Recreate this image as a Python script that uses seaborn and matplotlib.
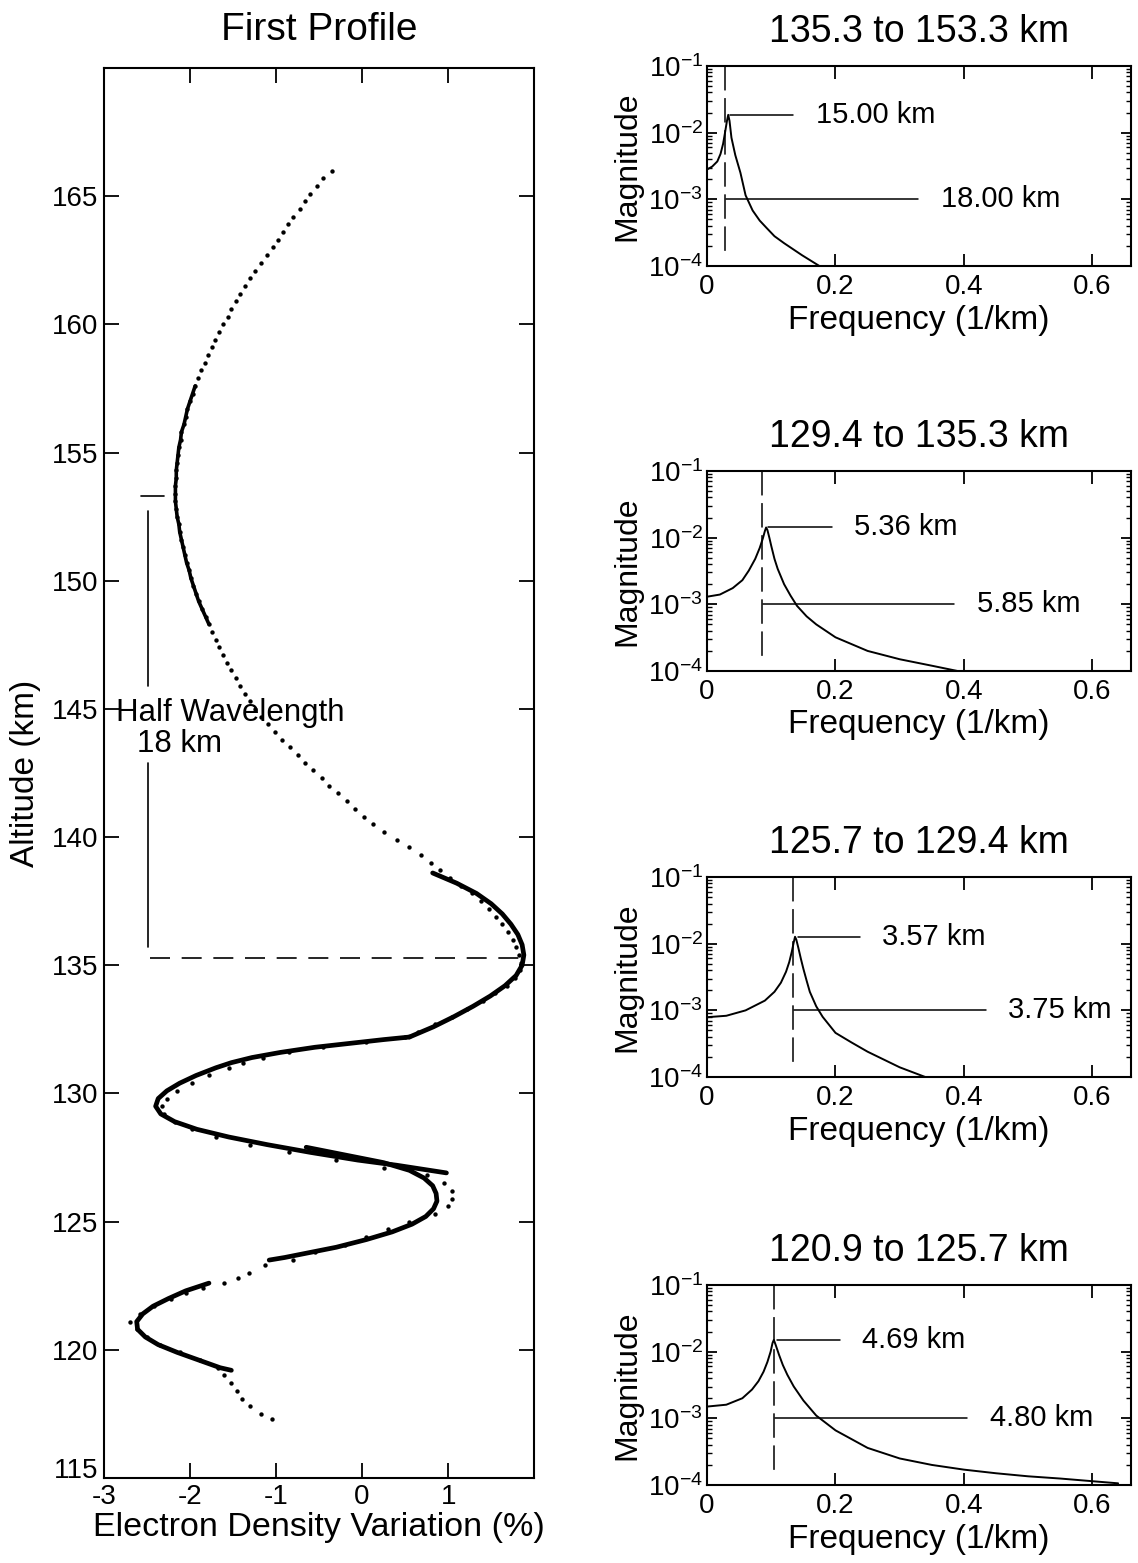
import numpy as np
import matplotlib
matplotlib.use("Agg")
import matplotlib.pyplot as plt
import seaborn as sns
from matplotlib.ticker import FixedLocator, LogLocator, NullFormatter, FuncFormatter
from matplotlib.transforms import ScaledTranslation

sns.set_style("ticks")
plt.rcParams['font.family'] = ['Liberation Sans', 'DejaVu Sans']
plt.rcParams['mathtext.fontset'] = 'custom'
plt.rcParams['mathtext.rm'] = 'Liberation Sans'
plt.rcParams['mathtext.it'] = 'Liberation Sans:italic'
plt.rcParams['axes.linewidth'] = 1.5
for key in ['text.color', 'axes.labelcolor', 'xtick.color', 'ytick.color', 'axes.edgecolor']:
    plt.rcParams[key] = 'black'

# ---- left panel: measured electron density variation (dots) ----
dot_alt = [166.0, 165.7, 165.4, 165.1, 164.8, 164.5, 164.2, 163.9, 163.6, 163.3,
           163.0, 162.7, 162.4, 162.1, 161.8, 161.5, 161.2, 160.9, 160.6, 160.3,
           160.0, 159.7, 159.4, 159.1, 158.8, 158.5, 158.2, 157.9, 157.6, 157.3,
           157.0, 156.7, 156.4, 156.1, 155.8, 155.5, 155.2, 154.9, 154.6, 154.3,
           154.0, 153.7, 153.4, 153.1, 152.8, 152.5, 152.2, 151.9, 151.6, 151.3,
           151.0, 150.7, 150.4, 150.1, 149.8, 149.5, 149.2, 148.9, 148.6, 148.3,
           148.0, 147.7, 147.4, 147.1, 146.8, 146.5, 146.2, 145.9, 145.6, 145.3,
           145.0, 144.7, 144.4, 144.1, 143.8, 143.5, 143.2, 142.9, 142.6, 142.3,
           142.0, 141.7, 141.4, 141.1, 140.8, 140.5, 140.2, 139.9, 139.6, 139.3,
           139.0, 138.7, 138.4, 138.1, 137.8, 137.5, 137.2, 136.9, 136.6, 136.3,
           136.0, 135.7, 135.4, 135.1, 134.8, 134.5, 134.2, 133.9, 133.6, 133.3,
           133.0, 132.7, 132.4, 132.2, 132.0, 131.8, 131.6, 131.4, 131.2, 131.0,
           130.7, 130.4, 130.1, 129.8, 129.5, 129.2, 128.9, 128.6, 128.3, 128.0,
           127.7, 127.4, 127.1, 126.8, 126.5, 126.2, 125.9, 125.6, 125.3, 125.0,
           124.7, 124.4, 124.1, 123.8, 123.5, 123.3, 123.0, 122.8, 122.6, 122.4,
           122.2, 122.0, 121.7, 121.4, 121.1, 120.8, 120.5, 120.2, 119.9, 119.6,
           119.3, 119.0, 118.7, 118.4, 118.1, 117.8, 117.5, 117.3]
dot_dev = [-0.35, -0.45, -0.52, -0.60, -0.66, -0.72, -0.80, -0.86, -0.92, -0.98,
           -1.03, -1.10, -1.17, -1.24, -1.30, -1.36, -1.42, -1.47, -1.52, -1.56,
           -1.62, -1.66, -1.71, -1.75, -1.79, -1.83, -1.87, -1.91, -1.94, -1.97,
           -2.00, -2.03, -2.05, -2.07, -2.10, -2.11, -2.13, -2.14, -2.15, -2.16,
           -2.16, -2.17, -2.17, -2.17, -2.16, -2.15, -2.13, -2.12, -2.10, -2.08,
           -2.06, -2.04, -2.01, -1.99, -1.96, -1.93, -1.90, -1.86, -1.82, -1.78,
           -1.74, -1.70, -1.66, -1.62, -1.57, -1.52, -1.47, -1.42, -1.36, -1.30,
           -1.24, -1.17, -1.09, -1.01, -0.93, -0.84, -0.75, -0.66, -0.57, -0.47,
           -0.38, -0.28, -0.18, -0.08, 0.02, 0.13, 0.25, 0.40, 0.55, 0.68,
           0.80, 0.90, 1.02, 1.15, 1.28, 1.38, 1.48, 1.56, 1.63, 1.70,
           1.75, 1.79, 1.82, 1.85, 1.84, 1.78, 1.68, 1.55, 1.40, 1.22,
           1.04, 0.85, 0.65, 0.50, 0.05, -0.45, -0.85, -1.15, -1.38, -1.55,
           -1.78, -1.98, -2.15, -2.27, -2.33, -2.30, -2.18, -1.98, -1.70, -1.30,
           -0.85, -0.30, 0.25, 0.75, 0.95, 1.05, 1.05, 1.00, 0.85, 0.55,
           0.30, 0.05, -0.20, -0.55, -0.80, -1.13, -1.31, -1.44, -1.61, -1.85,
           -2.05, -2.22, -2.42, -2.58, -2.70, -2.62, -2.50, -2.35, -2.12, -1.88,
           -1.68, -1.60, -1.52, -1.46, -1.40, -1.30, -1.18, -1.05]

# ---- left panel: fitted segments (solid) ----
fit1_alt = [138.6, 138.2, 137.8, 137.4, 137.0, 136.6, 136.2, 135.8, 135.4, 135.0,
            134.6, 134.2, 133.8, 133.4, 133.0, 132.6, 132.2]
fit1_dev = [0.82, 1.10, 1.33, 1.50, 1.63, 1.73, 1.81, 1.86, 1.88, 1.86,
            1.79, 1.66, 1.49, 1.29, 1.07, 0.83, 0.55]
fit2_alt = [132.2, 132.1, 131.95, 131.8, 131.6, 131.4, 131.2, 131.0, 130.7, 130.4,
            130.1, 129.8, 129.5, 129.2, 128.9, 128.6, 128.3, 128.0, 127.7, 127.4,
            127.2, 126.9]
fit2_dev = [0.55, 0.25, -0.15, -0.55, -0.95, -1.28, -1.52, -1.70, -1.93, -2.12,
            -2.27, -2.37, -2.40, -2.34, -2.18, -1.92, -1.55, -1.10, -0.60, -0.05,
            0.40, 0.98]
fit3_alt = [127.9, 127.6, 127.3, 127.0, 126.7, 126.4, 126.1, 125.8, 125.5, 125.2,
            124.9, 124.6, 124.3, 124.0, 123.8, 123.6, 123.5]
fit3_dev = [-0.65, -0.20, 0.25, 0.55, 0.72, 0.82, 0.86, 0.87, 0.83, 0.74,
            0.58, 0.35, 0.05, -0.30, -0.60, -0.90, -1.08]
fit4_alt = [122.6, 122.3, 122.0, 121.7, 121.4, 121.1, 120.8, 120.5, 120.2, 119.9,
            119.6, 119.3, 119.2]
fit4_dev = [-1.78, -2.05, -2.25, -2.43, -2.55, -2.62, -2.61, -2.52, -2.37, -2.15,
            -1.90, -1.65, -1.52]

half_top_km = 153.3
half_bottom_km = 135.3

# ---- right panels: spectra ----
titles = ["135.3 to 153.3 km", "129.4 to 135.3 km", "125.7 to 129.4 km", "120.9 to 125.7 km"]
peak_km = [15.00, 5.36, 3.57, 4.69]
half_km = [18.00, 5.85, 3.75, 4.80]

spec1_freq = [0.000, 0.008, 0.016, 0.021, 0.025, 0.028, 0.031, 0.033, 0.035, 0.038,
              0.044, 0.052, 0.060, 0.071, 0.082, 0.093, 0.105, 0.120, 0.148, 0.175]
spec1_mag = [2.8e-3, 3.1e-3, 3.7e-3, 4.8e-3, 6.8e-3, 1.0e-2, 1.5e-2, 1.85e-2, 1.5e-2, 8.4e-3,
             4.6e-3, 2.5e-3, 1.15e-3, 6.8e-4, 4.8e-4, 3.7e-4, 2.8e-4, 2.2e-4, 1.45e-4, 1.0e-4]
spec2_freq = [0.000, 0.020, 0.040, 0.055, 0.065, 0.075, 0.082, 0.087, 0.090, 0.092,
              0.094, 0.097, 0.100, 0.105, 0.110, 0.120, 0.130, 0.140, 0.155, 0.170,
              0.200, 0.250, 0.300, 0.350, 0.390]
spec2_mag = [1.3e-3, 1.4e-3, 1.75e-3, 2.3e-3, 3.2e-3, 4.8e-3, 7.0e-3, 9.8e-3, 1.25e-2, 1.42e-2,
             1.3e-2, 1.0e-2, 7.5e-3, 4.8e-3, 3.4e-3, 2.0e-3, 1.35e-3, 9.5e-4, 6.6e-4, 5.0e-4,
             3.2e-4, 2.0e-4, 1.5e-4, 1.2e-4, 1.0e-4]
spec3_freq = [0.000, 0.030, 0.060, 0.090, 0.105, 0.115, 0.123, 0.128, 0.132, 0.135,
              0.137, 0.139, 0.142, 0.146, 0.150, 0.155, 0.160, 0.170, 0.180, 0.200,
              0.225, 0.250, 0.300, 0.340]
spec3_mag = [7.9e-4, 8.3e-4, 1.0e-3, 1.4e-3, 1.9e-3, 2.6e-3, 3.8e-3, 5.3e-3, 7.6e-3, 1.05e-2,
             1.27e-2, 1.15e-2, 8.8e-3, 6.0e-3, 4.2e-3, 2.8e-3, 1.9e-3, 1.15e-3, 8.0e-4, 4.6e-4,
             3.3e-4, 2.4e-4, 1.4e-4, 1.0e-4]
spec4_freq = [0.000, 0.030, 0.055, 0.070, 0.080, 0.088, 0.094, 0.099, 0.102, 0.104,
              0.107, 0.112, 0.118, 0.125, 0.135, 0.150, 0.170, 0.200, 0.250, 0.300,
              0.350, 0.400, 0.450, 0.500, 0.550, 0.600, 0.640]
spec4_mag = [1.5e-3, 1.6e-3, 2.0e-3, 2.7e-3, 3.6e-3, 5.0e-3, 7.0e-3, 1.0e-2, 1.35e-2, 1.5e-2,
             1.25e-2, 9.0e-3, 6.3e-3, 4.5e-3, 3.0e-3, 1.85e-3, 1.1e-3, 6.6e-4, 3.6e-4, 2.5e-4,
             2.0e-4, 1.7e-4, 1.5e-4, 1.35e-4, 1.25e-4, 1.14e-4, 1.06e-4]

spectra = [(spec1_freq, spec1_mag), (spec2_freq, spec2_mag),
           (spec3_freq, spec3_mag), (spec4_freq, spec4_mag)]

# leader line ends (frequency units), per panel
peak_line_end = [0.134, 0.194, 0.238, 0.207]
half_line_end = [0.329, 0.385, 0.434, 0.405]

fig = plt.figure(figsize=(11.38, 15.63), dpi=100)

# ================= left panel =================
ax = fig.add_axes([0.0914, 0.0544, 0.378, 0.9021])
sns.scatterplot(x=dot_dev, y=dot_alt, ax=ax, s=10, color="black", linewidth=0)
# dense part of the profile looks like a thick line
dense = [(d, a) for d, a in zip(dot_dev, dot_alt) if 148.2 <= a <= 157.7]
sns.lineplot(x=[d for d, a in dense], y=[a for d, a in dense], ax=ax, sort=False,
             estimator=None, color="black", lw=2.6)
for fa, fd in [(fit1_alt, fit1_dev), (fit2_alt, fit2_dev), (fit3_alt, fit3_dev), (fit4_alt, fit4_dev)]:
    sns.lineplot(x=fd, y=fa, ax=ax, sort=False, estimator=None, color="black", lw=3.4)

# half wavelength bracket
ax.plot([-2.57, -2.30], [half_top_km, half_top_km], color="black", lw=1.2)
ax.plot([-2.49, -2.49], [152.7, 145.9], color="black", lw=1.2)
ax.plot([-2.49, -2.49], [142.9, 135.7], color="black", lw=1.2)
ax.plot([-2.47, 1.85], [half_bottom_km, half_bottom_km], color="black", lw=1.2,
        linestyle=(0, (12, 7)))
ax.text(-2.86, 144.85, "Half Wavelength", fontsize=22.5, va="center", ha="left")
ax.text(-2.62, 143.65, "%d km" % round(half_top_km - half_bottom_km), fontsize=22.5,
        va="center", ha="left")

ax.set_xlim(-3, 2)
ax.set_ylim(115, 170)
ax.xaxis.set_major_locator(FixedLocator([-3, -2, -1, 0, 1]))
ax.yaxis.set_major_locator(FixedLocator(list(range(115, 170, 5))))
ax.tick_params(which="major", direction="in", length=11, width=1.3, top=True, right=True,
               labelsize=20, pad=4)
ax.set_xticklabels(["-3", "-2", "-1", "0", "1"])
# lift the lowest altitude label a little, as in the original
lab115 = ax.get_yticklabels()[0]
lab115.set_transform(lab115.get_transform() + ScaledTranslation(0, 7 / 72, fig.dpi_scale_trans))
ax.set_xlabel("Electron Density Variation (%)", fontsize=24.5, labelpad=2)
ax.set_ylabel("Altitude (km)", fontsize=24, labelpad=8)
ax.set_title("First Profile", fontsize=28, pad=20)

# ================= right panels =================
bottoms = [0.8298, 0.5707, 0.3109, 0.0499]
for i, bottom in enumerate(bottoms):
    rax = fig.add_axes([0.6213, bottom, 0.3725, 0.128])
    freq, mag = spectra[i]
    sns.lineplot(x=freq, y=mag, ax=rax, sort=False, estimator=None, color="black", lw=1.4)
    rax.set_yscale("log")
    rax.set_xlim(0, 0.66)
    rax.set_ylim(1e-4, 1e-1)

    f_peak = 1.0 / (2 * peak_km[i])
    f_half = 1.0 / (2 * half_km[i])
    m_peak = max(mag)
    rax.plot([f_half, f_half], [1e-1, 1.5e-4], color="black", lw=1.1, linestyle=(0, (16, 5)))
    rax.plot([f_peak + 0.002, peak_line_end[i]], [m_peak, m_peak], color="black", lw=1.1)
    rax.text(peak_line_end[i] + 0.035, m_peak, "%.2f km" % peak_km[i], fontsize=21,
             va="center", ha="left")
    rax.plot([f_half + 0.002, half_line_end[i]], [1e-3, 1e-3], color="black", lw=1.1)
    rax.text(half_line_end[i] + 0.035, 1e-3, "%.2f km" % half_km[i], fontsize=21,
             va="center", ha="left")

    rax.xaxis.set_major_locator(FixedLocator([0, 0.2, 0.4, 0.6]))
    rax.set_xticklabels(["0", "0.2", "0.4", "0.6"])
    rax.yaxis.set_major_locator(FixedLocator([1e-4, 1e-3, 1e-2, 1e-1]))
    rax.yaxis.set_minor_locator(LogLocator(base=10, subs=np.arange(2, 10), numticks=20))
    rax.yaxis.set_minor_formatter(NullFormatter())
    rax.yaxis.set_major_formatter(FuncFormatter(lambda v, p: r"$10^{%d}$" % round(np.log10(v))))
    rax.tick_params(axis="x", which="major", direction="in", length=9, width=1.3,
                    top=True, labelsize=20, pad=6)
    rax.tick_params(axis="y", which="major", direction="in", length=7, width=1.3,
                    right=True, labelsize=20, pad=3)
    rax.tick_params(axis="y", which="minor", direction="in", length=3.5, width=1.0, right=True)
    rax.set_xlabel("Frequency (1/km)", fontsize=24, labelpad=3)
    rax.set_ylabel("Magnitude", fontsize=23, labelpad=4)
    rax.set_title(titles[i], fontsize=27, pad=17)

fig.savefig("out.png", dpi=100)
